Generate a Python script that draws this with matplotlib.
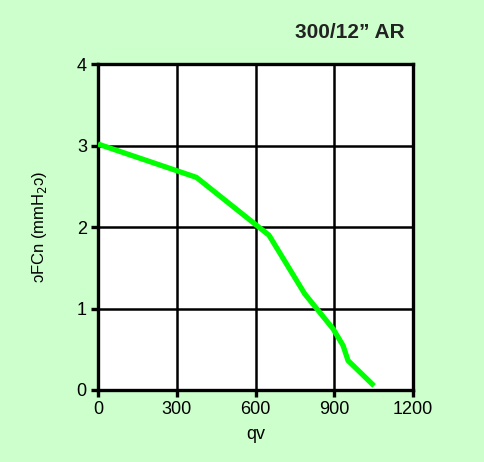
import matplotlib
matplotlib.use('Agg')
import matplotlib.pyplot as plt

plt.rcParams['font.family'] = ['Liberation Sans', 'DejaVu Sans']

# curve
qv = [0, 375, 651, 787, 895, 933, 952, 1051]
dp = [3.02, 2.61, 1.90, 1.18, 0.75, 0.545, 0.36, 0.05]

x_ticks = [0, 300, 600, 900, 1200]
y_ticks = [0, 1, 2, 3, 4]

bg = '#ccffcc'

fig = plt.figure(figsize=(4.85, 4.62), dpi=100, facecolor=bg)
ax = fig.add_axes([0.202, 0.156, 0.650, 0.705])
ax.set_facecolor('white')

ax.plot(qv, dp, color='#00ff00', linewidth=3.8, solid_capstyle='butt', zorder=3)

ax.set_xlim(0, 1200)
ax.set_ylim(0, 4)
ax.set_xticks(x_ticks)
ax.set_yticks(y_ticks)
ax.grid(True, color='black', linewidth=1.8)
for s in ax.spines.values():
    s.set_linewidth(2.4)
    s.set_color('black')
ax.tick_params(direction='out', length=5, width=2.4, labelsize=13, pad=3)

ax.set_xlabel('qv', fontsize=13, labelpad=6)
ax.set_ylabel('ɔFCn (mmH$_2$ɔ)', fontsize=12, labelpad=20)

fig.text(0.835, 0.91, '300/12\u201d AR', ha='right', va='bottom',
         fontsize=15, fontweight='bold', color='#222222')

fig.savefig('out.png', dpi=100, facecolor=bg)
